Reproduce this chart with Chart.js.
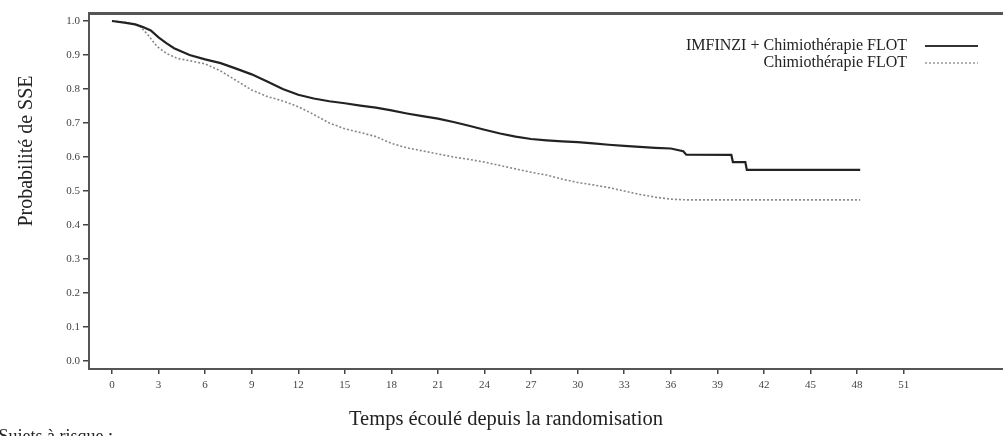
<!DOCTYPE html>
<html>
<head>
<meta charset="utf-8">
<script src="https://cdn.jsdelivr.net/npm/chart.js@4.4.1/dist/chart.umd.min.js"></script>
<style>
html,body{margin:0;padding:0;background:#fff;}
#wrap{width:1003px;height:436px;position:relative;}
</style>
</head>
<body>
<div id="wrap"><canvas id="c" width="1003" height="436"></canvas></div>
<script>
// Data (months, survival probability)
const imfinziTimes = [0, 0.8, 1.5, 2.0, 2.5, 3.0, 3.5, 4.0, 5.0, 6.0, 7.0, 8.0, 9.0, 10.0, 11.0, 12.0, 13.0, 14.0, 15.0, 16.0, 17.0, 18.0, 19.0, 20.0, 21.0, 22.0, 23.0, 24.0, 25.0, 26.0, 27.0, 28.0, 29.0, 30.0, 31.0, 32.0, 33.0, 34.0, 35.0, 36.0, 36.8, 37.0, 39.9, 40.0, 40.8, 40.9, 42, 44, 46, 48.2];
const imfinziValues = [1.0, 0.995, 0.99, 0.982, 0.972, 0.952, 0.935, 0.92, 0.90, 0.887, 0.876, 0.86, 0.843, 0.822, 0.80, 0.783, 0.772, 0.764, 0.758, 0.751, 0.745, 0.737, 0.728, 0.72, 0.713, 0.703, 0.692, 0.680, 0.669, 0.660, 0.653, 0.649, 0.646, 0.644, 0.640, 0.636, 0.633, 0.630, 0.627, 0.625, 0.617, 0.607, 0.606, 0.585, 0.585, 0.562, 0.562, 0.562, 0.562, 0.562];
const flotTimes = [0, 1.0, 1.8, 2.3, 2.9, 3.5, 4.2, 5.0, 6.0, 7.0, 8.0, 9.0, 10.0, 11.0, 12.0, 13.0, 14.0, 15.0, 16.0, 17.0, 18.0, 19.0, 20.0, 21.0, 22.0, 23.0, 24.0, 25.0, 26.0, 27.0, 28.0, 29.0, 30.0, 31.0, 32.0, 33.0, 34.0, 35.0, 36.0, 37, 40, 44, 48.2];
const flotValues = [1.0, 0.995, 0.985, 0.96, 0.925, 0.905, 0.89, 0.883, 0.874, 0.853, 0.825, 0.797, 0.778, 0.765, 0.748, 0.725, 0.700, 0.683, 0.672, 0.660, 0.640, 0.627, 0.618, 0.609, 0.600, 0.593, 0.585, 0.575, 0.565, 0.555, 0.547, 0.535, 0.525, 0.518, 0.510, 0.500, 0.490, 0.482, 0.476, 0.474, 0.474, 0.474, 0.474];
const xTickValues = [0, 3, 6, 9, 12, 15, 18, 21, 24, 27, 30, 33, 36, 39, 42, 45, 48, 51];
const yTickValues = [0.0, 0.1, 0.2, 0.3, 0.4, 0.5, 0.6, 0.7, 0.8, 0.9, 1.0];
const seriesNames = ["IMFINZI + Chimiothérapie FLOT", "Chimiothérapie FLOT"];
const xTitle = "Temps écoulé depuis la randomisation";
const yTitle = "Probabilité de SSE";
const footText = "Sujets à risque :";

const SERIF = '"Liberation Serif", "DejaVu Serif", serif';
const toPts = (ts, vs) => ts.map((t, i) => ({x: t, y: vs[i]}));

const textPlugin = {
  id: 'texts',
  afterDraw(chart) {
    const ctx = chart.ctx;
    ctx.save();
    ctx.fillStyle = '#222';
    // x title
    ctx.font = '20.5px ' + SERIF;
    ctx.textAlign = 'center';
    ctx.textBaseline = 'alphabetic';
    ctx.fillText(xTitle, 506, 425);
    // y title
    ctx.save();
    ctx.translate(27, 151);
    ctx.rotate(-Math.PI / 2);
    ctx.textBaseline = 'middle';
    ctx.font = '20px ' + SERIF;
    ctx.fillText(yTitle, 0, 0);
    ctx.restore();
    // footer text (partly cut)
    ctx.font = '18px ' + SERIF;
    ctx.textAlign = 'right';
    ctx.textBaseline = 'top';
    ctx.fillText(footText, 113, 428);
    // legend
    ctx.font = '16px ' + SERIF;
    ctx.textAlign = 'right';
    ctx.textBaseline = 'middle';
    ctx.fillStyle = '#222';
    ctx.fillText(seriesNames[0], 907, 46);
    ctx.fillText(seriesNames[1], 907, 63);
    ctx.strokeStyle = '#333';
    ctx.lineWidth = 2;
    ctx.beginPath(); ctx.moveTo(925, 46); ctx.lineTo(978, 46); ctx.stroke();
    ctx.strokeStyle = '#999';
    ctx.lineWidth = 1.5;
    ctx.setLineDash([2, 2]);
    ctx.beginPath(); ctx.moveTo(925, 63); ctx.lineTo(978, 63); ctx.stroke();
    ctx.restore();
  }
};

new Chart(document.getElementById('c'), {
  type: 'line',
  data: {
    datasets: [
      {
        label: seriesNames[0],
        data: toPts(imfinziTimes, imfinziValues),
        borderColor: '#222',
        borderWidth: 2.2,
        tension: 0,
        pointRadius: 0,
        fill: false
      },
      {
        label: seriesNames[1],
        data: toPts(flotTimes, flotValues),
        borderColor: '#888',
        borderWidth: 1.6,
        borderDash: [2, 2],
        tension: 0,
        pointRadius: 0,
        fill: false
      }
    ]
  },
  options: {
    responsive: false,
    animation: false,
    layout: {padding: 0},
    plugins: {legend: {display: false}, tooltip: {enabled: false}, title: {display: false}},
    scales: {
      x: {
        type: 'linear',
        position: 'bottom',
        min: -1.48,
        max: 57.4,
        afterBuildTicks: (s) => { s.ticks = xTickValues.map(v => ({value: v})); },
        afterFit: (s) => { s.height = 67; },
        ticks: {
          autoSkip: false, maxRotation: 0, padding: 5,
          color: '#444', font: {family: SERIF, size: 11},
          callback: (v) => String(v)
        },
        grid: {drawOnChartArea: false, drawTicks: true, tickLength: 5, color: '#444', lineWidth: 1.5},
        border: {display: true, color: '#555', width: 2}
      },
      x2: {
        type: 'linear',
        position: 'top',
        min: -1.48,
        max: 57.4,
        afterFit: (s) => { s.height = 13; },
        ticks: {display: false},
        grid: {display: false, drawTicks: false},
        border: {display: true, color: '#555', width: 3}
      },
      y: {
        type: 'linear',
        min: -0.0235,
        max: 1.0235,
        afterBuildTicks: (s) => { s.ticks = yTickValues.map(v => ({value: v})); },
        afterFit: (s) => { s.width = 89; },
        ticks: {
          padding: 3, color: '#444', font: {family: SERIF, size: 11},
          callback: (v) => Number(v).toFixed(1)
        },
        grid: {drawOnChartArea: false, drawTicks: true, tickLength: 6, color: '#444', lineWidth: 1.5},
        border: {display: true, color: '#555', width: 2}
      }
    }
  },
  plugins: [textPlugin]
});
</script>
</body>
</html>
